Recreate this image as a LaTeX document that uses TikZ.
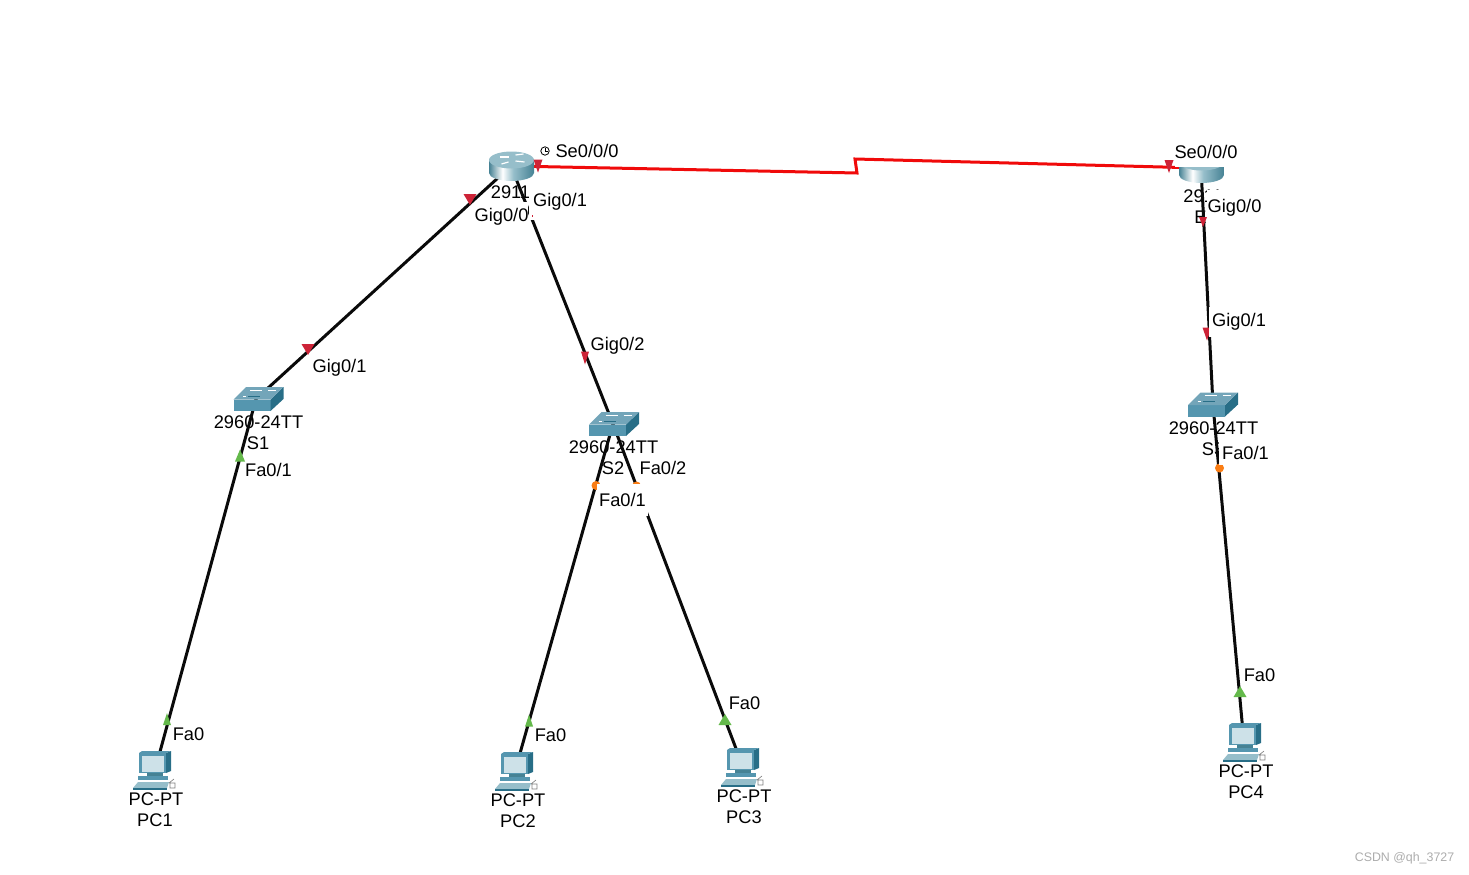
\documentclass[tikz,border=0pt]{standalone}
\usepackage{fontspec}
\setmainfont{Liberation Sans}
\definecolor{linkc}{RGB}{10,10,10}
\definecolor{serialc}{RGB}{240,10,10}
\definecolor{gigc}{RGB}{205,35,55}
\definecolor{fac}{RGB}{100,185,75}
\definecolor{stpc}{RGB}{250,125,20}
\definecolor{routerc}{RGB}{70,130,148}
\definecolor{routertop}{RGB}{150,190,202}
\definecolor{swtop}{RGB}{115,165,185}
\definecolor{swfront}{RGB}{85,150,175}
\definecolor{swside}{RGB}{40,110,135}
\definecolor{screenc}{RGB}{205,225,232}
\pgfdeclarehorizontalshading{routerbody}{100bp}{color(0bp)=(routerc);color(25bp)=(routerc);color(40bp)=(white);color(52bp)=(routertop);color(75bp)=(routerc);color(100bp)=(routerc)}
\tikzset{
  linkline/.style={linkc, line width=2.25pt},
  devlabel/.style={inner sep=0pt},
  portbox/.style 2 args={fill=white, inner sep=0pt, minimum width=#1*0.75pt, minimum height=#2*0.75pt},
  routericon/.pic={
    \shade[shading=routerbody] (-22.5,-6) -- (-22.5,7) arc (180:0:22.5 and 8) -- (22.5,-6) -- cycle;
    \fill[routertop] (0,-6) ellipse (22.5 and 8.5);
    \foreach \a/\b/\c/\d in {-12/-9/-3/-9, 4/-11/12/-12, -10/-2/-3/-4, 4/-5/13/-4}{
      \draw[white, line width=0.9pt] (\a,\b) -- (\c,\d);
    }
  },
  switchicon/.pic={
    \fill[swfront] (-24.5,0.5) -- (12.5,0.5) -- (12.5,12) -- (-24.5,12) -- cycle;
    \fill[swside] (12.5,0.5) -- (25.5,-12) -- (25.5,0) -- (12.5,12) -- cycle;
    \fill[swtop] (-24.5,0.5) -- (-12,-12) -- (25.5,-12) -- (12.5,0.5) -- cycle;
    \draw[white, line width=0.6pt] (-8,-9) -- (4,-9) (10,-9) -- (18,-9) (-15,-3) -- (-12,-3);
    \draw[swside, line width=0.6pt] (-10,-3) -- (2,-3);
  },
  pcicon/.pic={
    \fill[swside] (11,-18) -- (16,-20) -- (16,0) -- (11,2) -- cycle;
    \fill[swfront] (-16,-18) -- (-13,-20) -- (16,-20) -- (11,-18) -- cycle;
    \fill[swfront] (-16,-18) rectangle (11,2);
    \fill[screenc] (-13.5,-15) rectangle (9,0.5);
    \fill[routerc] (-8,2) rectangle (8,5);
    \fill[swfront] (-17,5) rectangle (13,9);
    \fill[routertop] (-22,17) -- (12,17) -- (14,11) -- (-17,11) -- cycle;
    \fill[swside] (-22,17) rectangle (12,18.5);
    \draw[gray, line width=0.5pt] (14,12) -- (19,8) (15,17) rectangle (20,12);
  }
}

\begin{document}
\begin{tikzpicture}[x=0.75pt, y=-0.75pt, font=\fontsize{13.7}{16}\selectfont, line cap=butt]
  \useasboundingbox (0,0) rectangle (1469,874);

  % device positions
  \coordinate (R1) at (511,166);
  \coordinate (R2) at (1201,168);
  \coordinate (S1) at (256,399);
  \coordinate (S2) at (613,424);
  \coordinate (S3) at (1213,405);
  \coordinate (PC1) at (155,770);
  \coordinate (PC2) at (515,771);
  \coordinate (PC3) at (743,767);
  \coordinate (PC4) at (1244,743);
  \coordinate (zigA) at (857,173);
  \coordinate (zigB) at (855,159);

  % device labels, the links run over them
  \foreach \n/\x/\y/\t in {R1type/510.5/192/2911, R2type/1203/196/2911, R2name/1200.5/217/E,
      S1type/258.5/422/2960-24TT, S1name/258/443/S1,
      S2type/613.5/447/2960-24TT, S2name/613/468/S2,
      S3type/1213.5/428/2960-24TT, S3name/1213/449/S3,
      PC1type/156/799/PC-PT, PC1name/155/820/PC1,
      PC2type/518/800/PC-PT, PC2name/518/821/PC2,
      PC3type/744/796/PC-PT, PC3name/744/817/PC3,
      PC4type/1246/771/PC-PT, PC4name/1246/792/PC4}{
    \node[devlabel] (\n) at (\x,\y) {\t};
  }

  % links
  \draw[linkline] (R1) -- (S1);
  \draw[linkline] (R1) -- (S2);
  \draw[linkline] (R2) -- (S3);
  \draw[linkline] (S1) -- (PC1);
  \draw[linkline] (S2) -- (PC2);
  \draw[linkline] (S2) -- (PC3);
  \draw[linkline] (S3) -- (PC4);
  \draw[serialc, line width=2.25pt] (R1) -- (zigA) -- (zigB) -- (R2);

  % icons
  \pic at (511.5,166) {routericon};
  \pic at (1201.5,168) {routericon};
  \pic at (258,399) {switchicon};
  \pic at (613.5,424) {switchicon};
  \pic at (1212.5,404.5) {switchicon};
  \foreach \x/\y in {155/771, 517/772, 743/768, 1245/743}{
    \pic at (\x,\y) {pcicon};
  }

  % link state marks
  \foreach \x/\y/\w/\h in {470/199.5/6.5/5.5, 308/349.5/6.5/5.5, 538/166/4.5/6.5,
      1169/166.5/4.5/6.5, 585/358/4/6.5, 1203/222/4/5, 1207/334/4.5/6.5}{
    \fill[gigc] (\x-\w,\y-\h) -- (\x+\w,\y-\h) -- (\x,\y+\h) -- cycle;
  }
  \foreach \x/\y/\w/\h in {240/455.5/5/6, 167/719/4/6, 529/720.5/4/6, 725/719.5/6.5/5.5, 1240/691.5/6.5/5.5}{
    \fill[fac] (\x-\w,\y+\h) -- (\x+\w,\y+\h) -- (\x,\y-\h) -- cycle;
  }
  \foreach \x/\y in {596/485.5, 636.5/486, 1219.5/468}{
    \fill[stpc] (\x,\y) circle (4.5);
  }

  % port labels, their white boxes hide what lies below
  \node[portbox={53}{30}] (gigA) at (501.5,216.5) {Gig0/0};
  \node[portbox={62}{36}] (gigB) at (560,202) {Gig0/1};
  \fill[gigc] (531.5,215) rectangle (533,217);
  \node[portbox={62}{30}] (serB) at (1206,152) {Se0/0/0};
  \node[portbox={56}{36}] (gigC) at (1234.5,208) {Gig0/0};
  \node[portbox={61}{30}] (gigD) at (1239,322) {Gig0/1};
  \node[portbox={54}{24}] (faD) at (1245.5,453) {Fa0/1};
  \node[portbox={51}{32}] (faB) at (622.5,500) {Fa0/1};
  \node[devlabel] (serA) at (587,151) {Se0/0/0};
  \node[devlabel] (gigE) at (339.5,368) {Gig0/1};
  \node[devlabel] (gigF) at (617.5,346) {Gig0/2};
  \node[devlabel] (faA) at (268.5,470) {Fa0/1};
  \node[devlabel] (faC) at (663,468) {Fa0/2};
  \node[devlabel] (faE) at (188.5,734) {Fa0};
  \node[devlabel] (faF) at (550.5,735) {Fa0};
  \node[devlabel] (faG) at (744.5,703) {Fa0};
  \node[devlabel] (faH) at (1259.5,675) {Fa0};

  % clock on the serial port
  \draw[line width=0.6pt] (545,151) circle (4.2);
  \draw[line width=0.6pt] (545,148) -- (545,151) -- (548,151);

  \node[gray!65, font=\fontsize{9.3}{11}\selectfont, inner sep=0pt] (mark) at (1404.5,858) {CSDN @qh\_3727};
\end{tikzpicture}
\end{document}
